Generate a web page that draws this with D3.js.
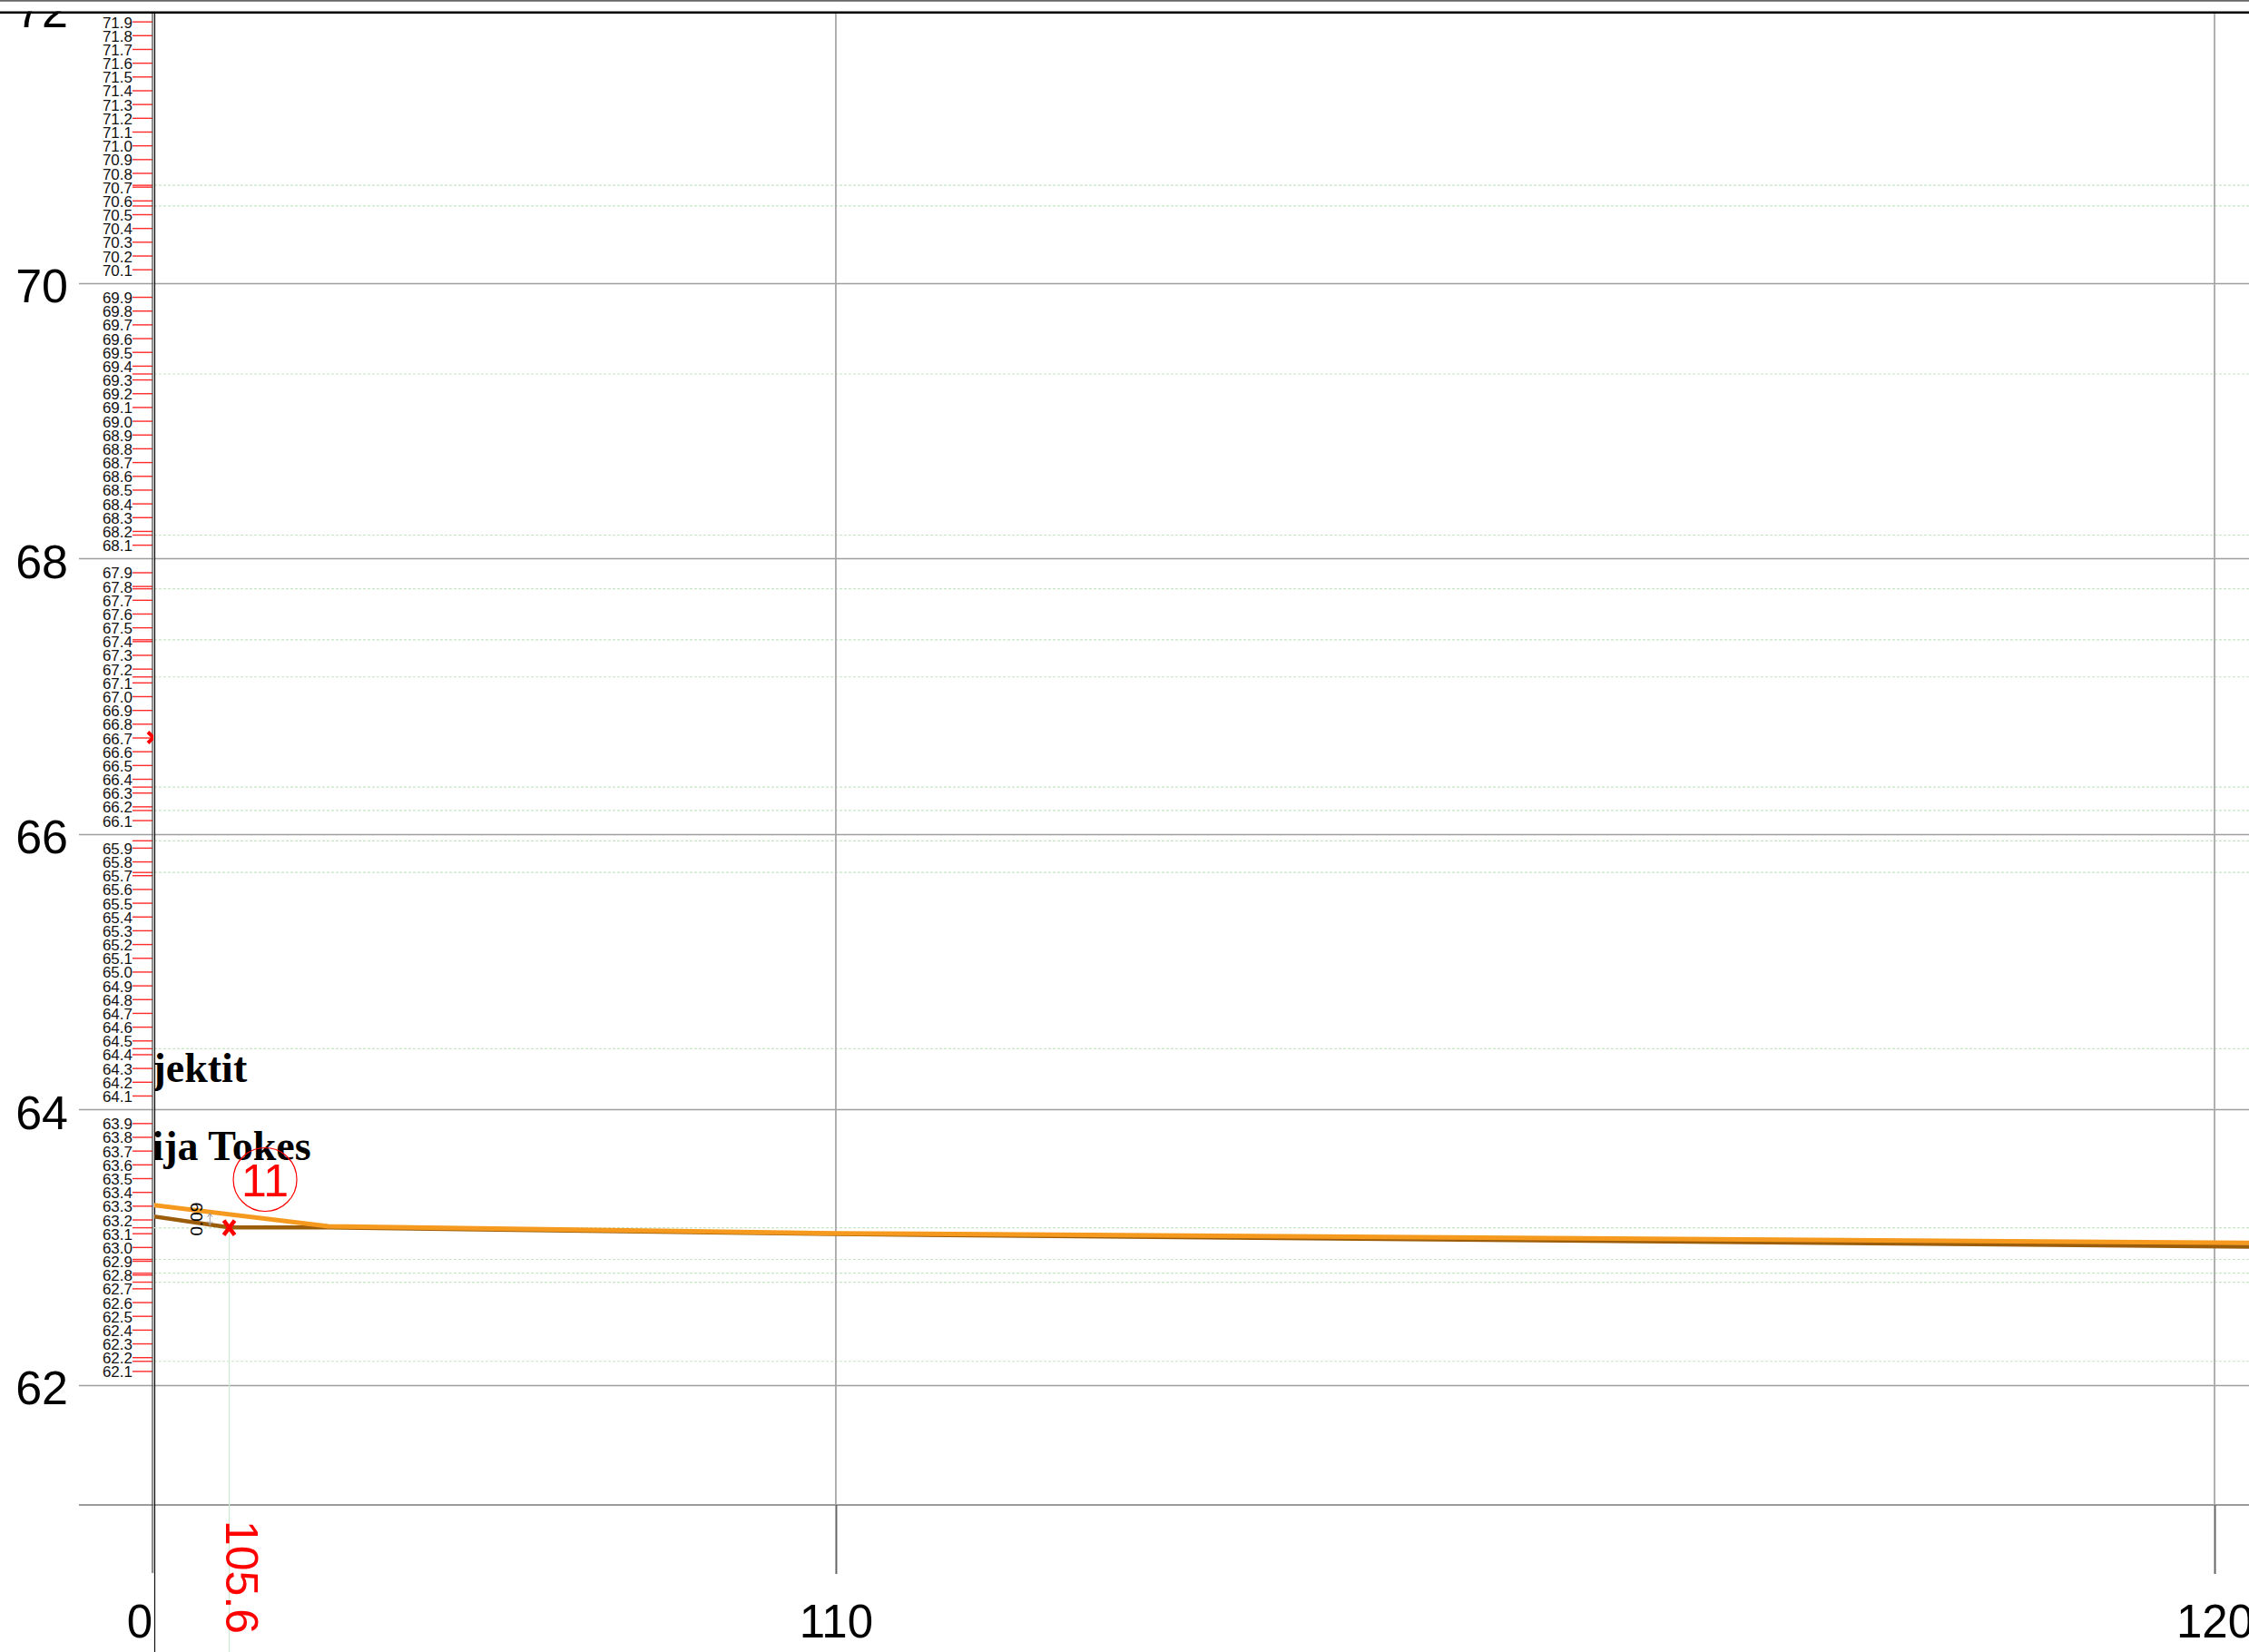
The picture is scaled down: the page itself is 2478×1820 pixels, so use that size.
<!DOCTYPE html>
<html>
<head>
<meta charset="utf-8">
<script src="https://cdn.jsdelivr.net/npm/d3@7"></script>
<style>
  html, body { margin: 0; padding: 0; background: #fff; }
  svg { display: block; }
</style>
</head>
<body>
<svg id="chart" width="2478" height="1820"></svg>
<script>
// ---------------- data ----------------
const yMajorTicks = [62, 64, 66, 68, 70, 72];
const xTicks = [110, 120];
const xOriginLabel = "0";
// reference levels (faint green lines with red axis ticks)
const refLevels = [70.71, 70.56, 69.34, 68.17, 67.78, 67.41, 67.14, 66.34, 66.17, 65.95, 65.72, 64.44, 63.14, 62.91, 62.81, 62.745, 62.17];

const orangeX = [105.05, 106.32, 110, 120.25];
const orangeY = [63.305, 63.150, 63.100, 63.030];
const brownX = [105.05, 105.6, 106.32, 110, 120.25];
const brownY = [63.222, 63.143, 63.142, 63.094, 63.002];

const markerPoint = {x: 105.6, y: 63.14, label: "105.6"};
const axisMarkerY = 66.7;
const circleNote = {x: 105.86, y: 63.49, label: "11"};
const gapNote = {x: 105.46, y1: 63.245, y2: 63.16, label: "0.09"};
const textNotes = [
  {x: 105.04, y: 64.2, label: "jektit"},
  {x: 105.04, y: 63.63, label: "ija Tokes"}
];

// ---------------- layout ----------------
const W = 2478, H = 1820;
const plot = {left: 170, right: 2478, top: 15, bottom: 1658};
const x = d3.scaleLinear().domain([105.05, 120.25]).range([169, 2478]);
const y = d3.scaleLinear().domain([61.127, 71.97]).range([1658, 13]);

const svg = d3.select("#chart");
svg.append("rect").attr("width", W).attr("height", H).attr("fill", "#fff");

svg.append("defs").append("clipPath").attr("id", "plotClip")
  .append("rect").attr("x", plot.left).attr("y", plot.top)
  .attr("width", plot.right - plot.left).attr("height", plot.bottom - plot.top);

const SANS = "'Liberation Sans', Arial, sans-serif";

// major y labels
const yMajor = svg.append("g").attr("transform", "translate(75,0)")
  .call(d3.axisLeft(y).tickValues(yMajorTicks).tickSize(0).tickPadding(0).tickFormat(d3.format("d")));
yMajor.select(".domain").remove();
yMajor.selectAll("text").attr("font-family", SANS).attr("font-size", 52).attr("fill", "#000").attr("dy", 21);

// horizontal major gridlines
svg.append("g").selectAll("line").data(yMajorTicks.filter(d => y(d) > plot.top)).join("line")
  .attr("x1", 87).attr("x2", W).attr("y1", d => Math.round(y(d)) + 0.5).attr("y2", d => Math.round(y(d)) + 0.5)
  .attr("stroke", "#9e9e9e").attr("stroke-width", 1.5);
// bottom (x-axis) line
svg.append("line").attr("x1", 87).attr("x2", W).attr("y1", plot.bottom).attr("y2", plot.bottom)
  .attr("stroke", "#7a7a7a").attr("stroke-width", 1.5);

// reference green lines
svg.append("g").attr("clip-path", "url(#plotClip)").selectAll("line").data(refLevels).join("line")
  .attr("x1", plot.left).attr("x2", W).attr("y1", d => y(d)).attr("y2", d => y(d))
  .attr("stroke", "#c6e6c6").attr("stroke-width", 1.2).attr("stroke-dasharray", "3,2");

// vertical gridlines
svg.append("g").selectAll("line").data(xTicks).join("line")
  .attr("x1", d => x(d)).attr("x2", d => x(d)).attr("y1", plot.top).attr("y2", plot.bottom)
  .attr("stroke", "#a8a8a8").attr("stroke-width", 1.8);

// x axis ticks + labels
const xAxis = svg.append("g").attr("transform", `translate(0,${plot.bottom})`)
  .call(d3.axisBottom(x).tickValues(xTicks).tickSize(76).tickPadding(34).tickFormat(d3.format("d")));
xAxis.select(".domain").remove();
xAxis.selectAll(".tick line").attr("stroke", "#666").attr("stroke-width", 2);
xAxis.selectAll("text").attr("font-family", SANS).attr("font-size", 51).attr("fill", "#000");
svg.append("text").attr("x", 168).attr("y", 1804).attr("text-anchor", "end")
  .attr("font-family", SANS).attr("font-size", 51).attr("fill", "#000").text(xOriginLabel);

// minor red ticks with labels (all tenths except the even major values)
const minorTicks = d3.range(621, 720).map(v => v / 10).filter(v => !yMajorTicks.some(m => Math.abs(m - v) < 1e-6));
const yMinor = svg.append("g").attr("transform", "translate(168,0)")
  .call(d3.axisLeft(y).tickValues(minorTicks).tickSize(22).tickPadding(0).tickFormat(d3.format(".1f")));
yMinor.select(".domain").remove();
yMinor.selectAll(".tick line").attr("stroke", "#ff2a2a").attr("stroke-width", 1.4);
yMinor.selectAll("text").attr("font-family", SANS).attr("font-size", 17).attr("fill", "#111").attr("dy", 6.5);
// red ticks at reference levels
svg.append("g").selectAll("line").data(refLevels).join("line")
  .attr("x1", 146).attr("x2", 168).attr("y1", d => y(d)).attr("y2", d => y(d))
  .attr("stroke", "#ff3030").attr("stroke-width", 1.4);

// y axis line (double)
svg.append("line").attr("x1", 168).attr("x2", 168).attr("y1", plot.top).attr("y2", 1733)
  .attr("stroke", "#333").attr("stroke-width", 1.2);
svg.append("line").attr("x1", 169.2).attr("x2", 169.2).attr("y1", plot.top).attr("y2", 1733)
  .attr("stroke", "#c8c8c8").attr("stroke-width", 1);
svg.append("line").attr("x1", 170.5).attr("x2", 170.5).attr("y1", plot.top).attr("y2", H)
  .attr("stroke", "#111").attr("stroke-width", 1.2);

// axis marker (half x at 66.7)
const am = svg.append("g").attr("transform", `translate(${x(105.05)},${y(axisMarkerY)})`);
am.append("defs").append("clipPath").attr("id", "amClip").append("rect")
  .attr("x", -10).attr("y", -10).attr("width", 10).attr("height", 20);
am.append("path").attr("d", "M-6,-6L6,6M-6,6L6,-6").attr("stroke", "#ff0000").attr("stroke-width", 4)
  .attr("clip-path", "url(#amClip)");

// plot content (clipped)
const g = svg.append("g").attr("clip-path", "url(#plotClip)");

// crosshair for marker
g.append("line").attr("x1", x(markerPoint.x)).attr("x2", x(markerPoint.x))
  .attr("y1", y(markerPoint.y)).attr("y2", H)
  .attr("stroke", "#cfe9cf").attr("stroke-width", 1.2);
g.append("line").attr("x1", plot.left).attr("x2", x(markerPoint.x))
  .attr("y1", y(markerPoint.y)).attr("y2", y(markerPoint.y))
  .attr("stroke", "#cfe9cf").attr("stroke-width", 1.2).attr("stroke-dasharray", "3,2");
svg.append("line").attr("x1", x(markerPoint.x)).attr("x2", x(markerPoint.x))
  .attr("y1", plot.bottom).attr("y2", H)
  .attr("stroke", "#cfe9cf").attr("stroke-width", 1.2);

// text notes
g.selectAll("text.note").data(textNotes).join("text").attr("class", "note")
  .attr("x", d => x(d.x)).attr("y", d => y(d.y))
  .attr("font-family", "'Liberation Serif', 'Times New Roman', serif")
  .attr("font-weight", "bold").attr("font-size", 46).attr("fill", "#000")
  .text(d => d.label);

// lines
const line = d3.line().x(d => x(d[0])).y(d => y(d[1]));
g.append("path").datum(d3.zip(brownX, brownY)).attr("d", line)
  .attr("fill", "none").attr("stroke", "#9c5d0a").attr("stroke-width", 4.5).attr("stroke-linejoin", "round");
g.append("path").datum(d3.zip(orangeX, orangeY)).attr("d", line)
  .attr("fill", "none").attr("stroke", "#f59a1f").attr("stroke-width", 5).attr("stroke-linejoin", "round");

// marker x
g.append("path")
  .attr("transform", `translate(${x(markerPoint.x)},${y(markerPoint.y)})`)
  .attr("d", "M-6,-8L6,8M-6,8L6,-8").attr("stroke", "#ff0000").attr("stroke-width", 4.5);

// circle note
g.append("circle").attr("cx", x(circleNote.x)).attr("cy", y(circleNote.y)).attr("r", 35)
  .attr("fill", "none").attr("stroke", "#ff0000").attr("stroke-width", 1.2);
g.append("text").attr("x", x(circleNote.x)).attr("y", y(circleNote.y) + 18)
  .attr("text-anchor", "middle").attr("font-family", SANS).attr("font-size", 50).attr("fill", "#ff0000")
  .text(circleNote.label);

// gap annotation
g.append("line").attr("x1", x(gapNote.x)).attr("x2", x(gapNote.x))
  .attr("y1", y(gapNote.y1)).attr("y2", y(gapNote.y2))
  .attr("stroke", "#999").attr("stroke-width", 1);
g.append("path").attr("d", `M${x(gapNote.x)-2.5},${y(gapNote.y1)+4}L${x(gapNote.x)},${y(gapNote.y1)}L${x(gapNote.x)+2.5},${y(gapNote.y1)+4}M${x(gapNote.x)-2.5},${y(gapNote.y2)-4}L${x(gapNote.x)},${y(gapNote.y2)}L${x(gapNote.x)+2.5},${y(gapNote.y2)-4}`)
  .attr("fill", "none").attr("stroke", "#999").attr("stroke-width", 1);
g.append("text")
  .attr("transform", `translate(${x(gapNote.x) - 8},${(y(gapNote.y1) + y(gapNote.y2)) / 2}) rotate(-90)`)
  .attr("text-anchor", "middle").attr("font-family", SANS).attr("font-size", 19).attr("fill", "#000")
  .text(gapNote.label);

// marker x-value label (rotated, below axis)
svg.append("text")
  .attr("transform", `translate(${x(markerPoint.x) - 4},1675) rotate(90)`)
  .attr("text-anchor", "start").attr("font-family", SANS).attr("font-size", 50).attr("fill", "#ff0000")
  .text(markerPoint.label);

// top border
svg.append("rect").attr("x", 0).attr("y", 0).attr("width", W).attr("height", 12.5).attr("fill", "#fff");
svg.append("line").attr("x1", 0).attr("x2", W).attr("y1", 0.8).attr("y2", 0.8).attr("stroke", "#666").attr("stroke-width", 1.8);
svg.append("line").attr("x1", 0).attr("x2", W).attr("y1", 13.8).attr("y2", 13.8).attr("stroke", "#000").attr("stroke-width", 2.6);
</script>
</body>
</html>
